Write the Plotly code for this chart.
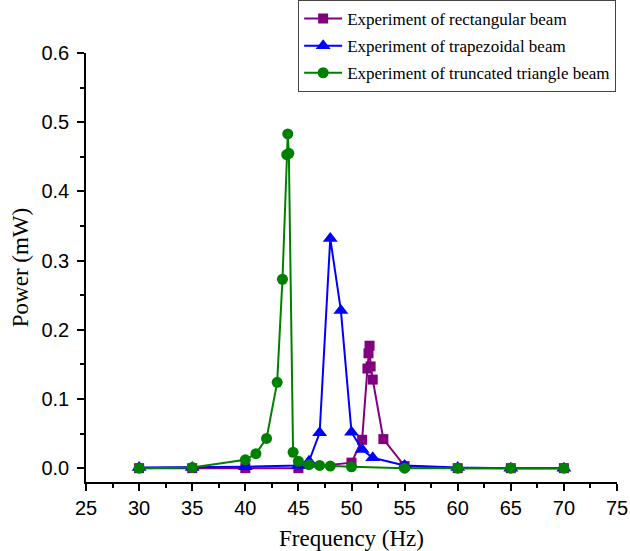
import plotly.graph_objects as go

# Rectangular beam
rect_freq = [30, 35, 40, 45, 50, 51, 51.5, 51.6, 51.7, 51.8, 52, 53, 55, 60, 65, 70]
rect_power = [0.0, 0.0, 0.0, 0.0, 0.008, 0.041, 0.144, 0.166, 0.177, 0.147, 0.128, 0.042, 0.003, 0.0, 0.0, 0.0]

# Trapezoidal beam
trap_freq = [30, 35, 40, 45, 46, 47, 48, 49, 50, 51, 52, 55, 60, 65, 70]
trap_power = [0.001, 0.001, 0.002, 0.004, 0.010, 0.051, 0.332, 0.228, 0.052, 0.027, 0.015, 0.004, 0.001, 0.0, 0.0]

# Truncated triangle beam
tri_freq = [30, 35, 40, 41, 42, 43, 43.5, 43.9, 44, 44.1, 44.5, 45, 46, 47, 48, 50, 55, 60, 65, 70]
tri_power = [0.0, 0.001, 0.012, 0.021, 0.043, 0.124, 0.273, 0.453, 0.483, 0.455, 0.023, 0.010, 0.005, 0.004, 0.003, 0.002, 0.0, 0.0, 0.0, 0.0]

x_ticks = [25, 30, 35, 40, 45, 50, 55, 60, 65, 70, 75]
y_ticks = [0.0, 0.1, 0.2, 0.3, 0.4, 0.5, 0.6]

fig = go.Figure()
fig.add_trace(go.Scatter(x=rect_freq, y=rect_power, mode="lines+markers",
                         name="Experiment of rectangular beam", legendgroup="a",
                         line=dict(color="#800080", width=2),
                         marker=dict(symbol="square", size=10, color="#800080")))
fig.add_trace(go.Scatter(x=trap_freq, y=trap_power, mode="lines+markers",
                         name="Experiment of trapezoidal beam", legendgroup="b",
                         line=dict(color="#0000FF", width=2),
                         marker=dict(symbol="triangle-up", size=13, color="#0000FF")))
fig.add_trace(go.Scatter(x=tri_freq, y=tri_power, mode="lines+markers",
                         name="Experiment of truncated triangle beam", legendgroup="c",
                         line=dict(color="#008000", width=2),
                         marker=dict(symbol="circle", size=11, color="#008000")))

axis_common = dict(showline=True, linecolor="black", linewidth=1.5,
                   ticks="outside", ticklen=7, tickwidth=1.5, tickcolor="black",
                   showgrid=False, zeroline=False, mirror=False, automargin=False,
                   ticklabeloverflow="allow",
                   tickfont=dict(family="Liberation Sans, Arial", size=20, color="black"))

fig.update_layout(
    width=630, height=551,
    margin=dict(l=86, r=13, t=53, b=69, autoexpand=False),
    paper_bgcolor="white", plot_bgcolor="white",
    xaxis=dict(range=[25, 75], tickvals=x_ticks, ticktext=[str(v) for v in x_ticks],
               minor=dict(dtick=2.5, tick0=25, ticks="outside", ticklen=4, tickwidth=1.5, tickcolor="black"),
               title=dict(text="Frequency (Hz)", standoff=14,
                          font=dict(family="Liberation Serif, Times New Roman", size=23, color="black")),
               **axis_common),
    yaxis=dict(range=[-0.02, 0.6], tickvals=y_ticks, ticktext=["%.1f" % v for v in y_ticks],
               minor=dict(dtick=0.05, tick0=0, ticks="outside", ticklen=4, tickwidth=1.5, tickcolor="black"),
               ticklabelstandoff=4,
               title=dict(text="Power (mW)", standoff=6,
                          font=dict(family="Liberation Serif, Times New Roman", size=23, color="black")),
               **axis_common),
    legend=dict(xref="container", yref="container", x=0.978, xanchor="right", y=1.0, yanchor="top",
                bgcolor="white", bordercolor="#444", borderwidth=1,
                font=dict(family="Liberation Serif, Times New Roman", size=17, color="black"),
                itemwidth=38, tracegroupgap=2),
    showlegend=True,
)

fig.write_html("out.html", config={"displayModeBar": False},
               post_script="document.body.style.margin='0';document.body.style.padding='0';")
